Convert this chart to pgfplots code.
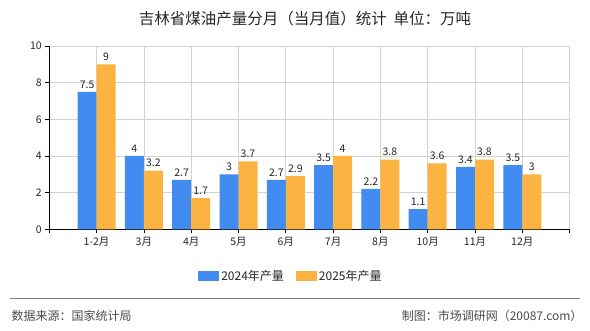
\documentclass[border=0pt]{standalone}
\usepackage{pgfplots}
\pgfplotsset{compat=1.18}
\usepackage{fontspec}
\setmainfont{Noto Sans CJK SC}
\definecolor{barblue}{RGB}{66,139,240}
\definecolor{barorange}{RGB}{251,180,65}
\definecolor{gridgray}{RGB}{211,211,211}
\begin{document}
\begin{tikzpicture}[x=1pt,y=1pt]
\path[fill=white] (0,0) rectangle (590,330);
\node[font=\fontsize{15.5}{17}\selectfont, text=black!85] at (305,311) {吉林省煤油产量分月（当月值）统计\ \ 单位：万吨};
\begin{axis}[
  at={(49.3pt,100.7pt)}, anchor=south west,
  scale only axis, width=520.3pt, height=183.3pt,
  xmin=0, xmax=11, ymin=0, ymax=10,
  xtick={0,...,11},
  xticklabels={,1-2月,3月,4月,5月,6月,7月,8月,10月,11月,12月,},
  ytick={0,2,...,10},
  axis x line*=bottom, axis y line*=left,
  axis line style={black, line width=0.8pt, -},
  tick align=outside, major tick length=4pt,
  tick style={black, line width=0.8pt},
  grid=major, major grid style={gridgray, line width=0.7pt},
  tick label style={font=\fontsize{10.5}{12}\selectfont, text=black!85},
  /pgf/number format/assume math mode=true,
  ybar=0pt, bar width=19pt,
  nodes near coords,
  every node near coord/.append style={font=\fontsize{10.5}{12}\selectfont, text=black!85, /pgf/number format/assume math mode=true},
  legend columns=2,
  legend style={draw=none, fill=none, at={(0.4645,-0.255)}, anchor=center,
    font=\fontsize{12}{14}\selectfont, text=black!85,
    /tikz/every even column/.append style={column sep=10pt}},
  legend image code/.code={\fill[#1] (0pt,-4.7pt) rectangle (21pt,4.7pt);},
  clip=false,
]
\addplot[fill=barblue, draw=none] coordinates {(1,7.5) (2,4) (3,2.7) (4,3) (5,2.7) (6,3.5) (7,2.2) (8,1.1) (9,3.4) (10,3.5)};
\addplot[fill=barorange, draw=none] coordinates {(1,9) (2,3.2) (3,1.7) (4,3.7) (5,2.9) (6,4) (7,3.8) (8,3.6) (9,3.8) (10,3)};
\legend{2024年产量,2025年产量}
\end{axis}
\draw[gray, line width=0.9pt] (10,32) -- (580,32);
\node[anchor=west, font=\fontsize{12}{14}\selectfont, text=black!70] at (8,14) {数据来源：国家统计局};
\node[anchor=east, font=\fontsize{12}{14}\selectfont, text=black!70] at (586,14) {制图：市场调研网（20087.com）};
\end{tikzpicture}
\end{document}
